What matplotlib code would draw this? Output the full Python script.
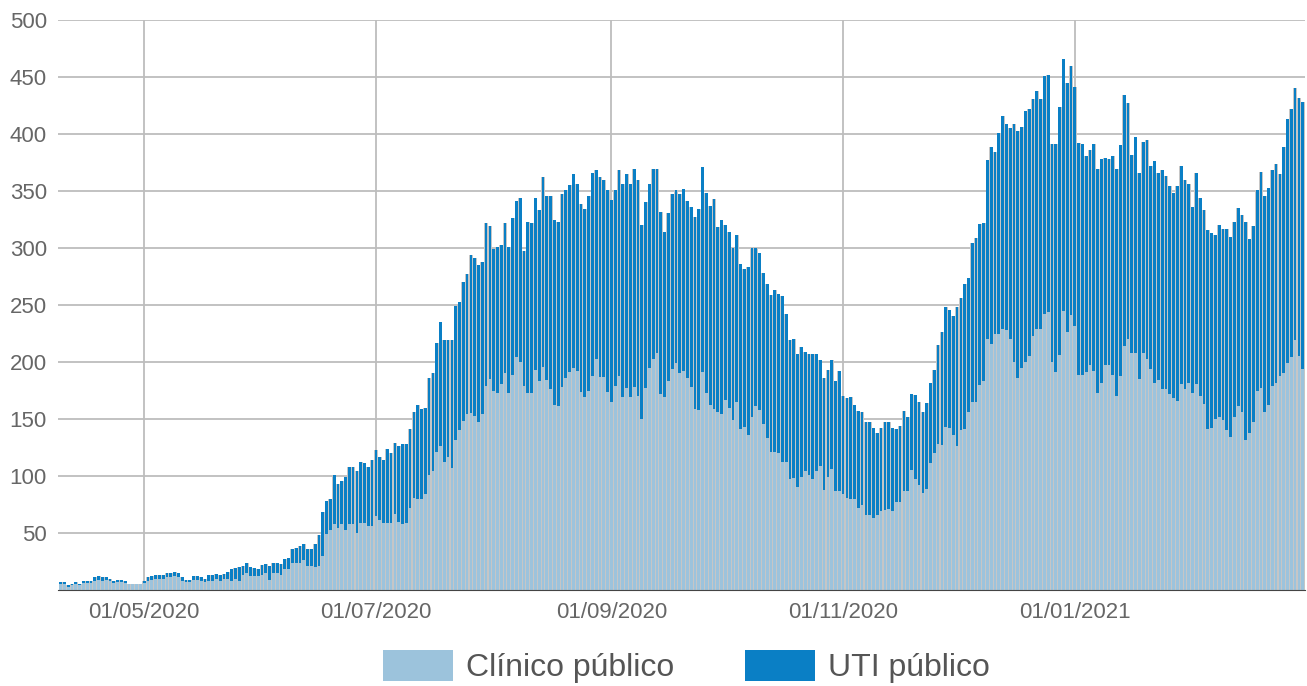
import matplotlib
matplotlib.use("Agg")
import matplotlib.pyplot as plt
import matplotlib.dates as mdates
from matplotlib.patches import Patch
import pandas as pd
import numpy as np

# ---------------- data ----------------
start_date = "2020-04-09"

# top of each stacked bar (Clínico + UTI)
total_internados = [
    7, 7, 4, 5.5, 7, 5, 8, 8, 8, 11, 12, 11, 11, 10, 8, 9, 9, 8, 5.5, 5.5, 5.5, 5.5,
    8, 11, 12, 13, 13, 13, 15, 15, 16, 15, 11, 9, 9, 12, 12,
    11, 10, 13, 13, 14, 13, 14, 16, 18, 19, 20, 21, 24, 20, 19, 18, 22, 23, 21, 24,
    24, 23, 27, 28, 36, 37, 39, 40, 36, 36, 40, 48, 68, 78, 80,
    101, 93, 96, 99, 108, 108, 104, 112, 111, 108, 114, 123, 117, 114, 124, 120, 129,
    126, 128, 128, 141, 156, 162, 159, 160, 186, 190, 217, 235, 219, 219,
    219, 249, 253, 270, 277, 294, 291, 285, 288, 322, 319, 299, 301, 303, 322, 301,
    326, 341, 344, 297, 323, 322, 344, 333, 362, 346, 346, 325, 323,
    347, 351, 355, 365, 356, 339, 334, 346, 366, 368, 362, 360, 351, 342, 351, 368,
    356, 365, 356, 369, 360, 320, 340, 356, 369, 369, 332, 314, 331,
    347, 351, 347, 352, 341, 336, 327, 334, 371, 348, 337, 343, 318, 325, 320, 314,
    300, 311, 286, 282, 283, 300, 300, 296, 278, 268, 259, 263, 260,
    258, 242, 219, 220, 207, 213, 209, 207, 207, 207, 202, 186, 193, 202, 183, 192,
    170, 168, 169, 162, 157, 156, 147, 147, 142, 138, 142, 147, 147,
    142, 141, 144, 157, 152, 172, 171, 165, 156, 164, 182, 193, 215, 226, 248, 246,
    240, 248, 256, 268, 274, 304, 309, 321, 322, 377,
    389, 384, 401, 416, 409, 405, 409, 403, 406, 420, 422, 431, 438, 431, 451, 452,
    391, 391, 424, 466, 445, 460, 441, 392, 391, 381, 386, 391, 369, 378, 379,
    378, 381, 369, 390, 434, 427, 382, 397, 366, 393, 395, 372, 376, 366, 368, 363,
    354, 348, 354, 372, 360, 356, 336, 366, 344, 333,
    316, 313, 311, 320, 317, 317, 310, 323, 335, 329, 323, 308, 319, 351, 367, 346,
    353, 368, 374, 365, 389, 413, 422, 440, 432, 428,
]

# light-blue part (Clínico público)
clinico_publico = [
    5, 5, 3, 4, 5, 4, 6, 6, 6, 8, 9, 8, 9, 8, 6, 7, 7, 6, 5, 5, 5, 5,
    6, 8, 9, 10, 10, 10, 11, 11, 12, 11, 8, 7, 7, 9, 9,
    8, 7, 8, 8, 10, 8, 10, 10, 8, 10, 8, 13, 15, 12, 12, 12, 13, 15, 9, 15,
    15, 13, 18, 18, 24, 24, 24, 26, 21, 21, 20, 21, 30, 49, 53,
    58, 54, 58, 53, 58, 58, 50, 59, 59, 56, 56, 65, 61, 59, 59, 59, 67,
    60, 58, 59, 72, 81, 80, 80, 84, 101, 104, 121, 126, 112, 117,
    107, 132, 140, 148, 154, 155, 153, 147, 154, 179, 185, 175, 173, 181, 190, 173,
    189, 204, 200, 179, 173, 173, 193, 183, 196, 184, 176, 162, 161,
    178, 186, 191, 195, 192, 174, 169, 175, 188, 203, 187, 187, 174, 165, 179, 188,
    169, 177, 169, 178, 170, 150, 177, 195, 203, 208, 172, 169, 183,
    194, 199, 190, 192, 186, 178, 159, 158, 191, 173, 162, 159, 156, 154, 167, 160,
    149, 165, 141, 143, 136, 152, 161, 158, 146, 133, 121, 121, 120,
    112, 112, 97, 98, 90, 99, 104, 101, 97, 104, 109, 88, 99, 106, 87, 87,
    84, 81, 80, 80, 72, 75, 66, 66, 63, 66, 69, 70, 71,
    69, 77, 77, 87, 87, 105, 97, 92, 85, 89, 111, 120, 128, 127, 143, 142,
    136, 126, 140, 141, 156, 165, 165, 180, 183, 220,
    216, 225, 225, 229, 228, 220, 200, 186, 195, 200, 205, 223, 229, 229, 242, 244,
    200, 191, 206, 245, 226, 241, 232, 189, 189, 191, 197, 192, 173, 182, 197,
    197, 189, 170, 188, 214, 220, 208, 208, 185, 208, 203, 194, 182, 184, 176, 176,
    172, 168, 166, 181, 176, 182, 173, 181, 170, 163,
    141, 142, 150, 152, 149, 140, 134, 152, 161, 156, 132, 138, 147, 175, 177, 156,
    162, 179, 182, 188, 190, 199, 204, 219, 205, 194,
]

tick_dates = ["2020-05-01", "2020-07-01", "2020-09-01", "2020-11-01", "2021-01-01"]
tick_labels = ["01/05/2020", "01/07/2020", "01/09/2020", "01/11/2020", "01/01/2021"]
y_ticks = [50, 100, 150, 200, 250, 300, 350, 400, 450, 500]
series_labels = ["Clínico público", "UTI público"]
series_colors = ["#9cc3dc", "#0a7fc5"]

# ---------------- derived ----------------
dates = pd.date_range(start_date, periods=len(total_internados), freq="D")
xnum = mdates.date2num(dates.to_pydatetime())
clin = np.array(clinico_publico, dtype=float)
uti = np.array(total_internados, dtype=float) - clin

plt.rcParams["font.family"] = ["Liberation Sans", "DejaVu Sans"]

W, H = 1307, 686
fig = plt.figure(figsize=(W / 100, H / 100), dpi=100)
ax = fig.add_axes([58 / W, 96 / H, (1305 - 58) / W, 570 / H])

# gray backing gives the thin gray separators between bars
ax.bar(xnum, clin + uti, width=1.0, color="#c6c6c6", linewidth=0, zorder=2)
ax.bar(xnum, clin, width=0.72, color=series_colors[0], linewidth=0, zorder=3)
ax.bar(xnum, uti, bottom=clin, width=0.72, color=series_colors[1], linewidth=0, zorder=3)

ax.set_ylim(0, 500)
ax.set_xlim(xnum[0] - 0.7, xnum[-1] + 0.6)
ax.set_yticks(y_ticks)
ax.set_xticks(mdates.date2num(pd.to_datetime(tick_dates).to_pydatetime()))
ax.set_xticklabels(tick_labels)

ax.grid(True, axis="both", color="#bdbdbd", linewidth=1.3, zorder=0)
ax.set_axisbelow(True)
for s in ["top", "right", "left"]:
    ax.spines[s].set_visible(False)
ax.spines["bottom"].set_color("#444444")
ax.spines["bottom"].set_linewidth(0.8)
ax.spines["bottom"].set_zorder(4)
ax.tick_params(axis="both", length=0, labelsize=16, colors="#666666")
ax.tick_params(axis="y", pad=8)
ax.tick_params(axis="x", pad=9)

handles = [Patch(facecolor=c, edgecolor="none") for c in series_colors]
fig.legend(handles, series_labels, loc="center", bbox_to_anchor=(0.525, 0.028),
           ncol=2, frameon=False, fontsize=23, handlelength=2.2, handleheight=1.1,
           handletextpad=0.4, columnspacing=2.2, borderpad=0, labelcolor="#555555")

fig.savefig("out.png", dpi=100)
